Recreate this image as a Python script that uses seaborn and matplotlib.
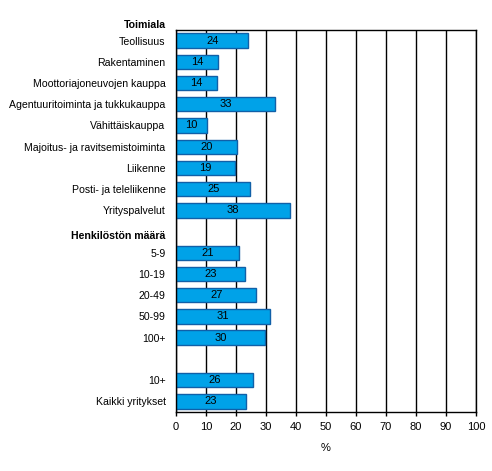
import numpy as np
import pandas as pd
import matplotlib
matplotlib.use("Agg")
import matplotlib.pyplot as plt
import matplotlib.transforms as mtransforms
import seaborn as sns

# data
toimiala = ["Teollisuus", "Rakentaminen", "Moottoriajoneuvojen kauppa",
            "Agentuuritoiminta ja tukkukauppa", "Vähittäiskauppa",
            "Majoitus- ja ravitsemistoiminta", "Liikenne",
            "Posti- ja teleliikenne", "Yrityspalvelut"]
toimiala_values = [24.1, 14.1, 13.8, 33.1, 10.4, 20.4, 19.6, 24.8, 38.1]
toimiala_labels = [24, 14, 14, 33, 10, 20, 19, 25, 38]

koko = ["5-9", "10-19", "20-49", "50-99", "100+"]
koko_values = [21.1, 23.1, 26.8, 31.4, 29.8]
koko_labels = [21, 23, 27, 31, 30]

yhteensa = ["10+", "Kaikki yritykset"]
yhteensa_values = [25.8, 23.4]
yhteensa_labels = [26, 23]

heading1 = "Toimiala"
heading2 = "Henkilöstön määrä"
xticks = list(range(0, 101, 10))

# row order, with an empty slot for the second heading and a gap row
order = toimiala + [heading2] + koko + [" "] + yhteensa
df = pd.DataFrame({
    "category": toimiala + koko + yhteensa,
    "value": toimiala_values + koko_values + yhteensa_values,
    "label": toimiala_labels + koko_labels + yhteensa_labels,
})

sns.set_theme(style="white")
plt.rcParams["font.family"] = ["Liberation Sans", "DejaVu Sans"]
plt.rcParams.update({"text.color": "black", "axes.labelcolor": "black",
                     "xtick.color": "black", "ytick.color": "black"})

fig = plt.figure(figsize=(4.92, 4.71), dpi=100)
ax = fig.add_axes([0.3577, 0.1253, 0.6098, 0.811])

sns.barplot(data=df, x="value", y="category", order=order, orient="h",
            color="#00A2E8", saturation=1, width=0.68,
            edgecolor="#1060A8", linewidth=1.0, ax=ax)

# value labels centered in each bar
pos = {c: i for i, c in enumerate(order)}
for _, r in df.iterrows():
    ax.text(r["value"] / 2, pos[r["category"]], str(r["label"]),
            ha="center", va="center", fontsize=8, color="black")

ax.set_xlim(0, 100)
ax.set_ylim(len(order) - 0.5, -0.5)
ax.set_xticks(xticks)
ax.xaxis.grid(True, color="black", linewidth=1.0)
ax.set_axisbelow(True)
for s in ax.spines.values():
    s.set_visible(True)
    s.set_color("black")
    s.set_linewidth(1.0)

tick_labels = [("" if c == heading2 else c) for c in order]
ax.set_yticks(range(len(order)))
ax.set_yticklabels(tick_labels, fontsize=7.6)
ax.tick_params(axis="y", length=0, pad=7.5)
ax.tick_params(axis="x", bottom=True, direction="out", length=3, width=1,
               color="black", labelsize=8, pad=4)
ax.set_xlabel("%", fontsize=8, labelpad=8)
ax.set_ylabel("")

# bold group headings
trans = mtransforms.blended_transform_factory(ax.transAxes, ax.transData)
offset = mtransforms.ScaledTranslation(-7.5 / 72, 0, fig.dpi_scale_trans)
ax.text(0, -0.75, heading1, transform=trans + offset, ha="right",
        va="center", fontsize=7.6, fontweight="bold", clip_on=False)
ax.text(0, pos[heading2] + 0.2, heading2, transform=trans + offset,
        ha="right", va="center", fontsize=7.6, fontweight="bold",
        clip_on=False)

fig.savefig("out.png", dpi=100, facecolor="w")
